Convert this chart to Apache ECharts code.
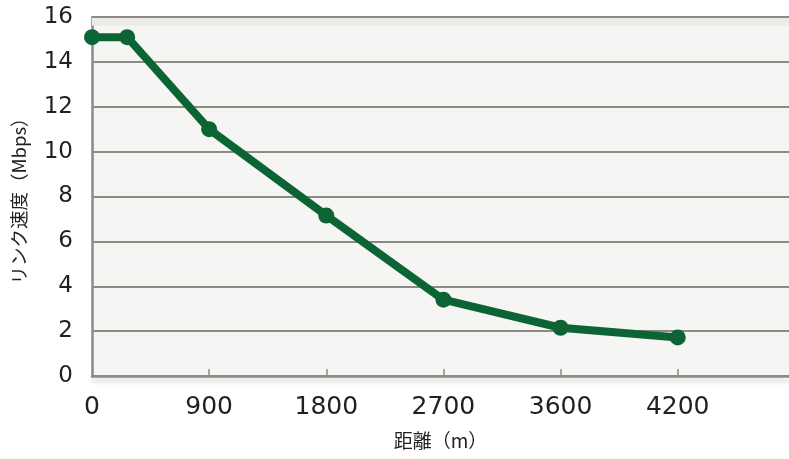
<!DOCTYPE html>
<html>
<head>
<meta charset="utf-8">
<script src="https://cdn.jsdelivr.net/npm/echarts@6/dist/echarts.min.js"></script>
<style>
html,body{margin:0;padding:0;background:#fff;}
#c{width:789px;height:459px;}
</style>
</head>
<body>
<div id="c"></div>
<script>
// data
const xTickLabels = ['0', '900', '1800', '2700', '3600', '4200'];
const xPositions = [0, 0.3, 1, 2, 3, 4, 5];   // position along axis, in label-slot units
const speeds = [15.1, 15.1, 11.0, 7.15, 3.4, 2.15, 1.72];
const yName = 'リンク速度（Mbps）';
const xName = '距離（m）';

const chart = echarts.init(document.getElementById('c'));
const gridColor = '#8e8a83';
const textColor = '#231f20';
chart.setOption({
  animation: false,
  backgroundColor: '#ffffff',
  grid: { left: 92, right: 0, top: 17, bottom: 83, show: true, backgroundColor: '#f5f5f3', borderWidth: 0 },
  xAxis: {
    type: 'value', min: 0, max: 5.95, interval: 1,
    name: xName, nameLocation: 'middle', nameGap: 55,
    nameTextStyle: { fontFamily: 'Noto Sans CJK JP', fontSize: 19, color: textColor },
    axisLine: { show: true, lineStyle: { color: gridColor, width: 2.5, shadowColor: 'rgba(0,0,0,0.18)', shadowBlur: 4, shadowOffsetY: 4 } },
    axisTick: { show: true, inside: true, length: 7, lineStyle: { color: gridColor, width: 1.5 }, customValues: [1, 2, 3, 4, 5] },
    axisLabel: { customValues: [0, 1, 2, 3, 4, 5], formatter: v => xTickLabels[Math.round(v)], fontFamily: 'DejaVu Sans', fontSize: 25, color: textColor, margin: 19 },
    splitLine: { show: false }
  },
  yAxis: {
    type: 'value', min: 0, max: 16, interval: 2,
    name: yName, nameLocation: 'middle', nameGap: 64, nameRotate: 90,
    nameTextStyle: { fontFamily: 'Noto Sans CJK JP', fontSize: 18.5, color: textColor },
    axisLine: { show: true, lineStyle: { color: gridColor, width: 2.5 } },
    axisTick: { show: false },
    axisLabel: { fontFamily: 'DejaVu Sans', fontSize: 23, color: textColor, margin: 19 },
    splitLine: { show: true, lineStyle: { color: gridColor, width: 2 } }
  },
  series: [{
    type: 'line',
    data: xPositions.map((x, i) => [x, speeds[i]]),
    symbol: 'circle', symbolSize: 16,
    lineStyle: { color: '#0c6434', width: 8 },
    itemStyle: { color: '#0c6434' },
    markArea: { silent: true, itemStyle: { color: '#ebebe9' }, data: [[{ yAxis: 15.62 }, { yAxis: 15.96 }]] }
  }]
});
</script>
</body>
</html>
